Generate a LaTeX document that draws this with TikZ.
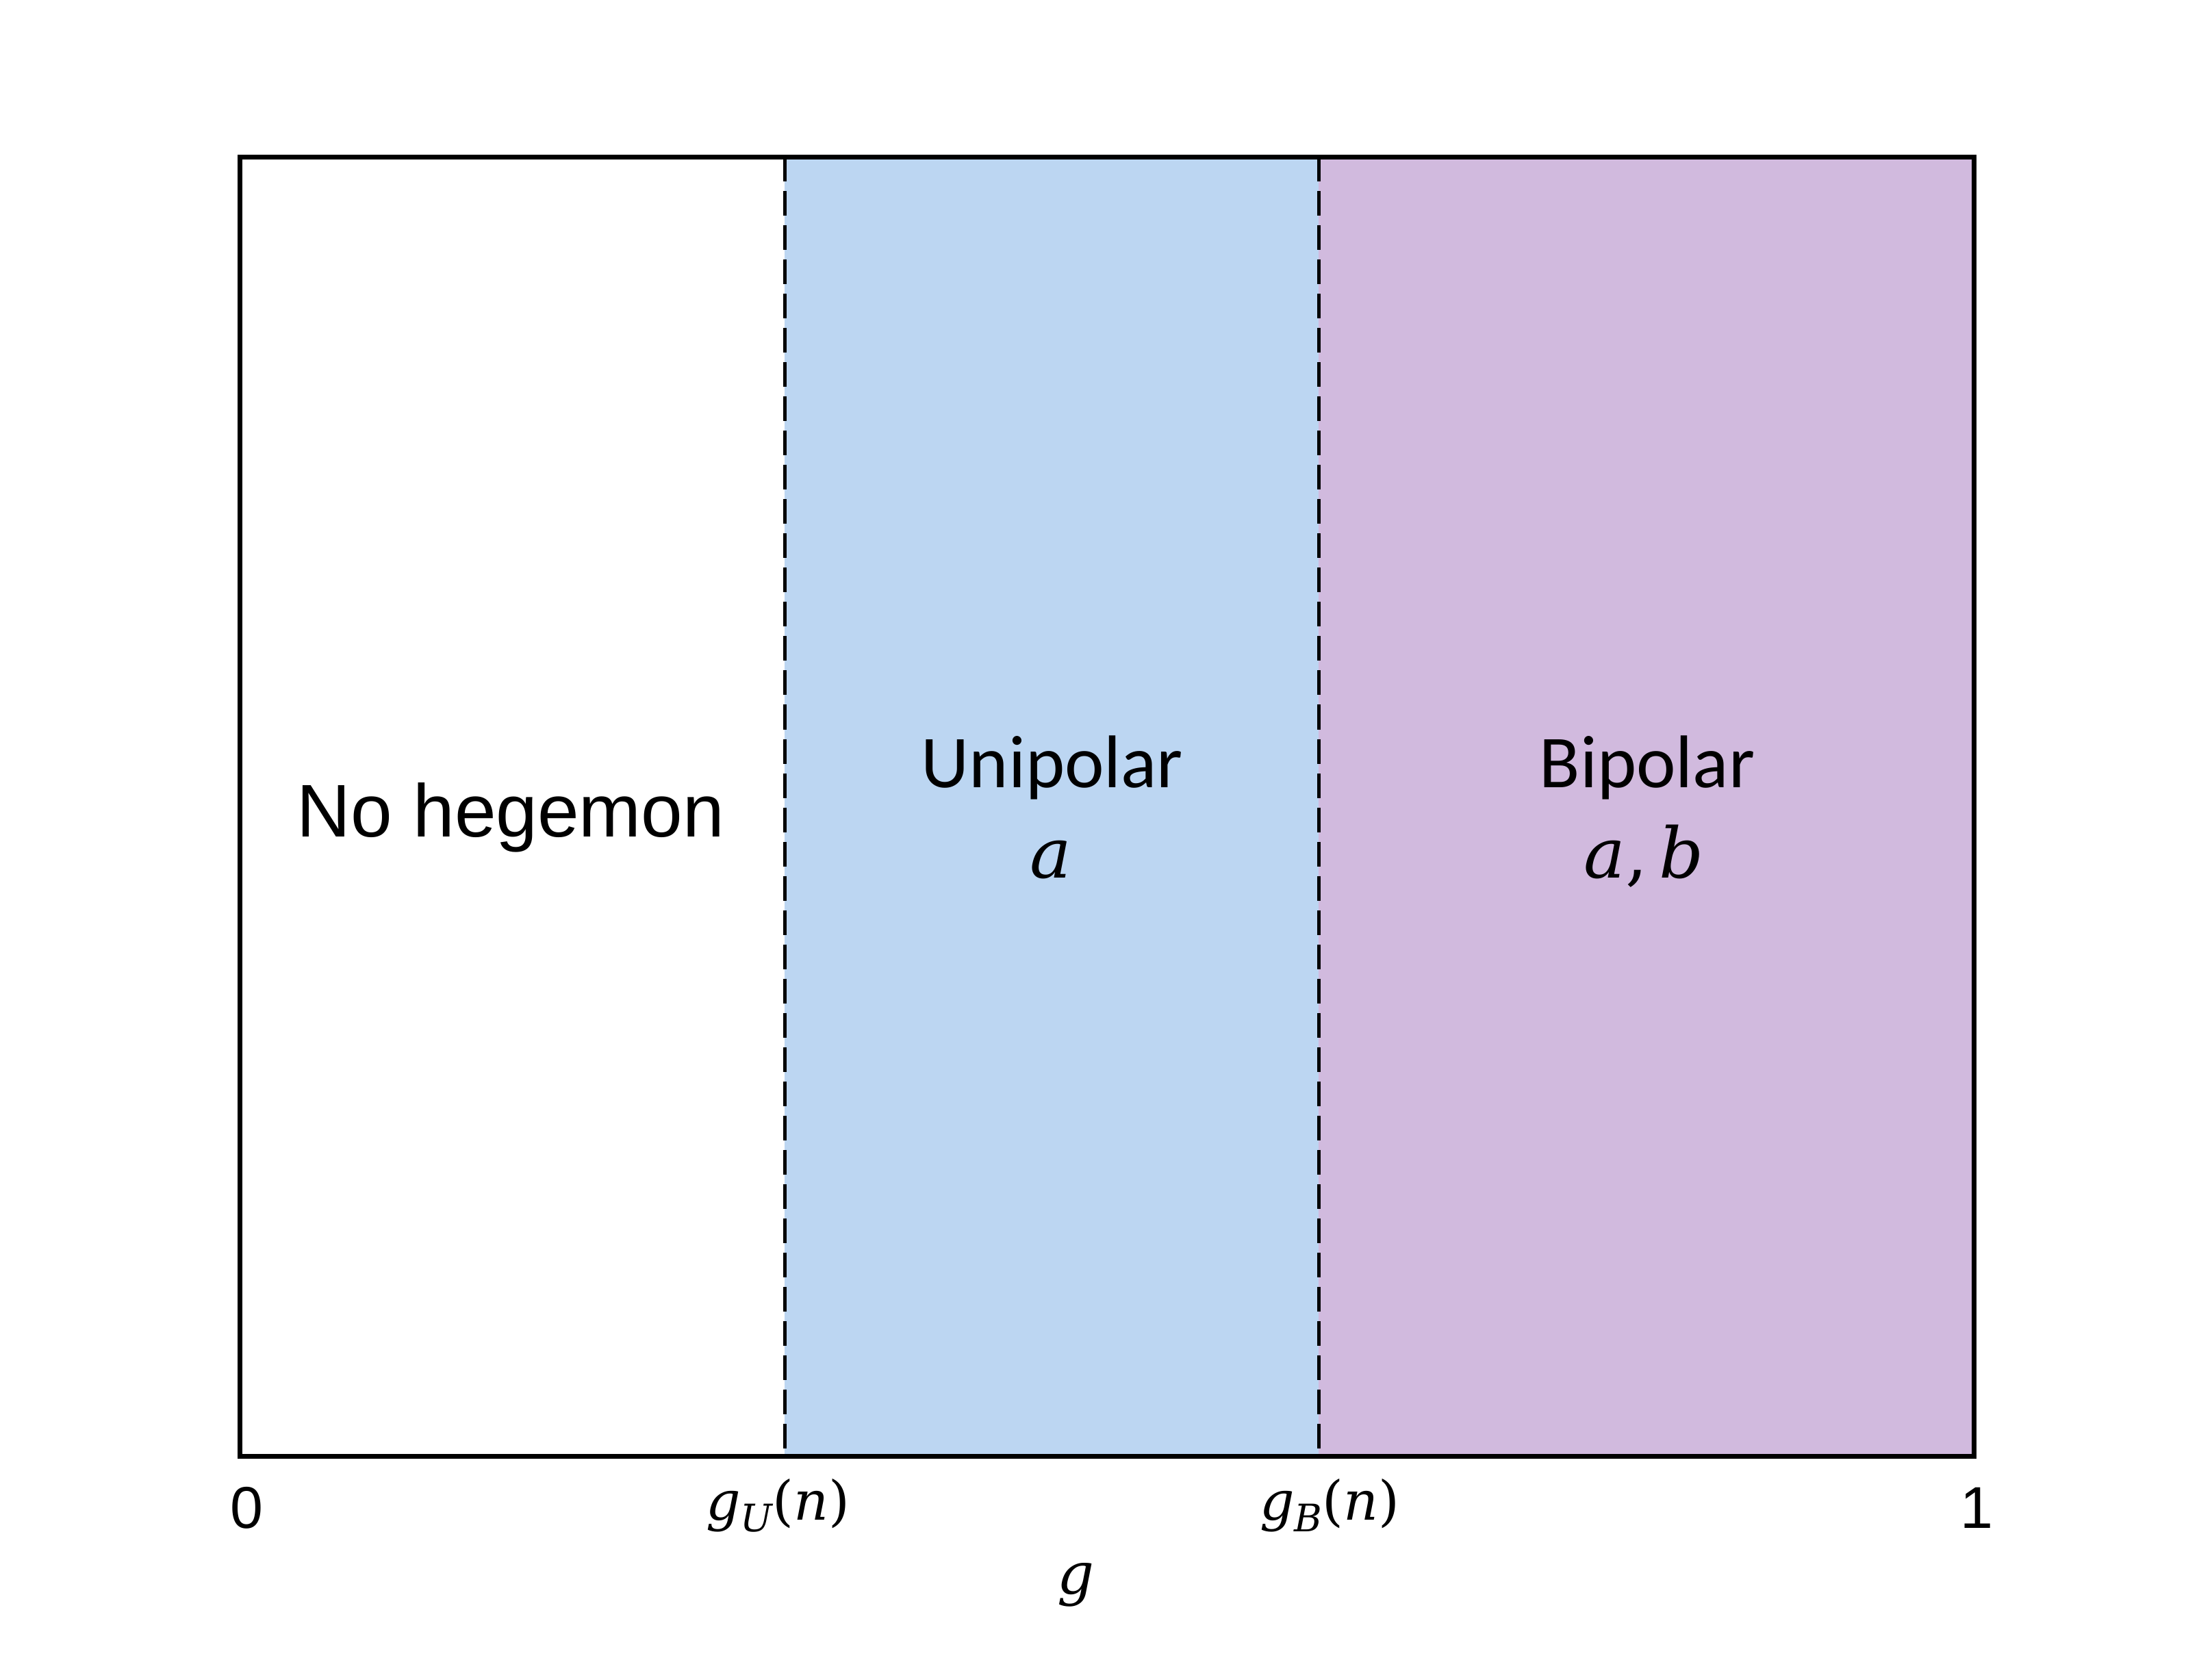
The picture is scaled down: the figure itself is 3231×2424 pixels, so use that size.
\documentclass[tikz,border=0pt]{standalone}
\usepackage{fontspec}
\newfontfamily\arialf{Liberation Sans}
\newfontfamily\calibrif{Carlito}
\newfontfamily\mathf{DejaVu Serif}
\newcommand{\vi}[1]{{\mathf\itshape #1}}
\newcommand{\vsub}[1]{\raisebox{-0.22em}{\fontsize{0.7em}{0.8em}\selectfont\vi{#1}}}
\definecolor{uniblue}{HTML}{BCD6F2}
\definecolor{bipurple}{HTML}{D1BADE}
\begin{document}
\begin{tikzpicture}[x=0.01cm,y=-0.01cm,
  regionlabel/.style={inner sep=0pt,anchor=base,font=\calibrif\fontsize{31}{37}\selectfont},
  mathbig/.style={inner sep=0pt,anchor=base,font=\mathf\fontsize{29}{35}\selectfont},
  ticklabel/.style={inner sep=0pt,anchor=base,font=\arialf\fontsize{24.5}{30}\selectfont},
  mathtick/.style={inner sep=0pt,anchor=base,font=\mathf\fontsize{22.5}{27}\selectfont},
  frameline/.style={line width=0.07cm},
  boundary/.style={line width=0.05cm,dash pattern=on 0.36cm off 0.14cm}]
\useasboundingbox (0,0) rectangle (3231,2424);
% regions
\fill[uniblue] (1146,229) rectangle (1926,2127);
\fill[bipurple] (1926,229) rectangle (2883,2127);
% boundaries
\coordinate (uTop) at (1146,229);
\coordinate (uBot) at (1146,2127);
\coordinate (bTop) at (1926,229);
\coordinate (bBot) at (1926,2127);
\draw[boundary] (uTop) -- (uBot);
\draw[boundary] (bTop) -- (bBot);
% frame
\draw[frameline] (350,229) rectangle (2883,2127);
% region labels
\node[inner sep=0pt,anchor=base,font=\arialf\fontsize{31}{37}\selectfont] (noheg) at (746,1222) {No hegemon};
\node[regionlabel] (uni) at (1537,1150) {Unipolar};
\node[mathbig] (unia) at (1535,1282) {\vi{a}};
\node[regionlabel] (bip) at (2406,1150) {Bipolar};
\node[mathbig] (bipab) at (2401,1282) {\vi{a},\,\vi{b}};
% axis labels
\node[ticklabel] (zero) at (360,2232) {0};
\node[ticklabel] (one) at (2887,2232) {1};
\node[mathtick] (gu) at (1136,2220) {\vi{g}\vsub{U}(\vi{n})};
\node[mathtick] (gb) at (1942,2220) {\vi{g}\vsub{B}(\vi{n})};
\node[inner sep=0pt,anchor=base,font=\mathf\fontsize{24}{29}\selectfont] (gaxis) at (1571,2328) {\vi{g}};
\end{tikzpicture}
\end{document}
